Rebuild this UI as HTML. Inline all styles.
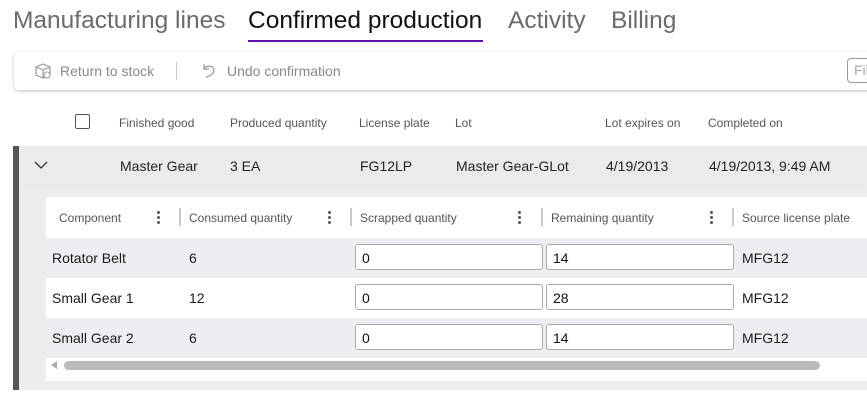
<!DOCTYPE html>
<html><head><style>
body{margin:0;width:867px;height:408px;overflow:hidden;background:#fff;font-family:"Liberation Sans",sans-serif;position:relative}
.a{position:absolute;white-space:nowrap}
.tab{font-size:24.5px;color:#6b6b6b;top:7px}
.h{font-size:12px;color:#555;top:116px}
.r{font-size:14px;color:#222;top:158px}
.ch{font-size:12px;color:#555;top:211px}
.c{font-size:14px;color:#1a1a1a}
.inp{position:absolute;height:26px;border:1px solid #aaa;border-radius:3px;background:#fff;box-sizing:border-box;font-size:14px;padding:5px 0 0 6px;color:#111}
.dots{position:absolute;width:3px;top:211px}
.dots i{display:block;width:3px;height:3px;border-radius:50%;background:#555;margin-bottom:2px}
.sep{position:absolute;width:2px;height:18px;background:#c8c8c8;top:208px}
</style></head><body>
<div class="a tab" style="left:13px">Manufacturing lines</div>
<div class="a tab" style="left:248px;color:#111">Confirmed production</div>
<div class="a tab" style="left:508px">Activity</div>
<div class="a tab" style="left:611px">Billing</div>
<div class="a" style="left:248px;top:40px;width:235px;height:2px;background:#5b0fb0"></div>

<div class="a" style="left:14px;top:52px;width:870px;height:38px;border-radius:4px;box-shadow:0 1px 3px rgba(0,0,0,.25);background:#fff"></div>
<svg class="a" style="left:34px;top:62px" width="18" height="18" viewBox="0 0 18 18"><path d="M2 5l7-3 7 3v8l-7 3-7-3z M2 5l7 3 7-3 M9 8v8" fill="none" stroke="#999" stroke-width="1.2"/><circle cx="13" cy="13" r="3" fill="#fff" stroke="#999"/></svg>
<div class="a" style="left:60px;top:63px;font-size:14px;color:#888">Return to stock</div>
<div class="a" style="left:176px;top:62px;width:1px;height:18px;background:#ccc"></div>
<svg class="a" style="left:200px;top:61px" width="18" height="18" viewBox="0 0 18 18"><path d="M4 3v5h5 M4 8c2-4 9-4 10 1c0 4-4 6-8 7" fill="none" stroke="#999" stroke-width="1.2"/></svg>
<div class="a" style="left:227px;top:63px;font-size:14px;color:#888">Undo confirmation</div>
<div class="a" style="left:847px;top:58px;width:40px;height:25px;border:1px solid #999;border-radius:4px;box-sizing:border-box;font-size:14px;color:#aaa;padding:3px 0 0 6px">Fil</div>

<div class="a" style="left:75px;top:114px;width:15px;height:15px;border:1px solid #555;border-radius:2px;box-sizing:border-box"></div>
<div class="a h" style="left:119px">Finished good</div>
<div class="a h" style="left:230px">Produced quantity</div>
<div class="a h" style="left:359px">License plate</div>
<div class="a h" style="left:455px">Lot</div>
<div class="a h" style="left:605px">Lot expires on</div>
<div class="a h" style="left:708px">Completed on</div>

<div class="a" style="left:13px;top:146px;width:6px;height:244px;background:#555"></div>
<div class="a" style="left:19px;top:146px;width:848px;height:41px;background:#ebebeb;box-shadow:0 1px 2px rgba(0,0,0,.12)"></div>
<svg class="a" style="left:34px;top:160px" width="14" height="10"><path d="M1 2l6 6 6-6" fill="none" stroke="#333" stroke-width="1.3"/></svg>
<div class="a r" style="left:120px">Master Gear</div>
<div class="a r" style="left:230px">3 EA</div>
<div class="a r" style="left:360px">FG12LP</div>
<div class="a r" style="left:456px">Master Gear-GLot</div>
<div class="a r" style="left:606px">4/19/2013</div>
<div class="a r" style="left:709px">4/19/2013, 9:49 AM</div>

<div class="a" style="left:19px;top:188px;width:848px;height:202px;background:#ededed"></div>
<div class="a" style="left:46px;top:197px;width:821px;height:184px;background:#fff"></div>
<div class="a ch" style="left:59px">Component</div>
<div class="dots" style="left:157px"><i></i><i></i><i></i></div>
<div class="sep" style="left:179px"></div>
<div class="a ch" style="left:189px">Consumed quantity</div>
<div class="dots" style="left:328px"><i></i><i></i><i></i></div>
<div class="sep" style="left:350px"></div>
<div class="a ch" style="left:360px">Scrapped quantity</div>
<div class="dots" style="left:518px"><i></i><i></i><i></i></div>
<div class="sep" style="left:541px"></div>
<div class="a ch" style="left:551px">Remaining quantity</div>
<div class="dots" style="left:710px"><i></i><i></i><i></i></div>
<div class="sep" style="left:732px"></div>
<div class="a ch" style="left:742px">Source license plate</div>

<div class="a" style="left:46px;top:238px;width:821px;height:40px;background:#eeeef2"></div>
<div class="a" style="left:46px;top:318px;width:821px;height:40px;background:#eeeef2"></div>

<div class="a c" style="left:52px;top:250px">Rotator Belt</div>
<div class="a c" style="left:189px;top:250px">6</div>
<div class="inp" style="left:355px;top:244px;width:188px">0</div>
<div class="inp" style="left:546px;top:244px;width:188px">14</div>
<div class="a c" style="left:742px;top:250px">MFG12</div>

<div class="a c" style="left:52px;top:290px">Small Gear 1</div>
<div class="a c" style="left:189px;top:290px">12</div>
<div class="inp" style="left:355px;top:284px;width:188px">0</div>
<div class="inp" style="left:546px;top:284px;width:188px">28</div>
<div class="a c" style="left:742px;top:290px">MFG12</div>

<div class="a c" style="left:52px;top:330px">Small Gear 2</div>
<div class="a c" style="left:189px;top:330px">6</div>
<div class="inp" style="left:355px;top:324px;width:188px">0</div>
<div class="inp" style="left:546px;top:324px;width:188px">14</div>
<div class="a c" style="left:742px;top:330px">MFG12</div>

<svg class="a" style="left:50px;top:361px" width="8" height="8"><path d="M7 0v8L1 4z" fill="#aaa"/></svg>
<div class="a" style="left:64px;top:361px;width:756px;height:9px;border-radius:5px;background:#bbb"></div>
</body></html>
